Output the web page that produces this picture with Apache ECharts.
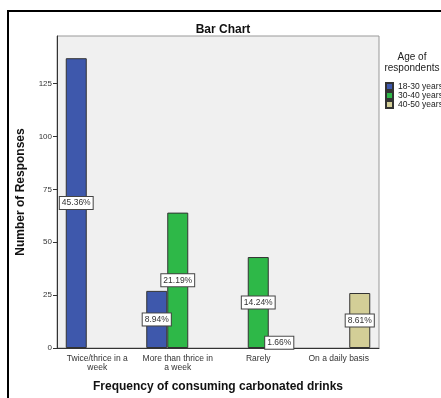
<!DOCTYPE html>
<html>
<head>
<meta charset="utf-8">
<script src="https://cdn.jsdelivr.net/npm/echarts@6/dist/echarts.min.js"></script>
<style>
  html, body { margin: 0; padding: 0; background: #fff; }
  #main { width: 441px; height: 398px; }
</style>
</head>
<body>
<div id="main"></div>
<script>
// categories on x axis
const categories = ['Twice/thrice in a\nweek', 'More than thrice in\na week', 'Rarely', 'On a daily basis'];
// number of responses per age group (null = no bar)
const age18to30 = [137, 27, null, null];
const age30to40 = [null, 64, 43, null];
const age40to50 = [null, null, 5, 26];
const groupNames = ['18-30 years', '30-40 years', '40-50 years'];
const groupColors = ['#3e58ac', '#2eb848', '#d3ce97'];
const yTicks = [0, 25, 50, 75, 100, 125];

const total = [age18to30, age30to40, age40to50]
  .flat().reduce((s, v) => s + (v || 0), 0);

const chart = echarts.init(document.getElementById('main'));

function makeSeries(name, data, color) {
  return {
    name: name,
    type: 'bar',
    data: data,
    barWidth: 21,
    barGap: '0%',
    itemStyle: { color: color, borderColor: '#333', borderWidth: 1 },
    label: {
      show: true,
      position: 'inside',
      formatter: p => (p.value / total * 100).toFixed(2) + '%',
      backgroundColor: '#fff',
      borderColor: '#444',
      borderWidth: 1,
      padding: [2, 2, 1, 2],
      fontSize: 8.5,
      color: '#333',
      fontFamily: 'Liberation Sans, Arial'
    }
  };
}

const option = {
  animation: false,
  textStyle: { fontFamily: 'Liberation Sans, Arial' },
  title: [
    {
      text: 'Bar Chart',
      left: 218, top: 19, textAlign: 'center',
      textStyle: { fontSize: 12, fontWeight: 'bold', color: '#111' }
    },
    {
      text: 'Age of\nrespondents',
      left: 407, top: 47, textAlign: 'center',
      textStyle: { fontSize: 10, fontWeight: 'normal', color: '#222', lineHeight: 11 }
    }
  ],
  legend: {
    orient: 'vertical',
    left: 380, top: 77,
    icon: 'rect',
    itemWidth: 7, itemHeight: 7, itemGap: 0,
    textStyle: { fontSize: 8.5, color: '#222', lineHeight: 7.5 },
    data: groupNames
  },
  grid: {
    left: 57, top: 36, right: 62, bottom: 47,
    show: true, backgroundColor: '#f0f0f0', borderColor: '#999', borderWidth: 1
  },
  xAxis: {
    type: 'category',
    data: categories,
    name: 'Frequency of consuming carbonated drinks',
    nameLocation: 'middle',
    nameGap: 33,
    nameTextStyle: { fontSize: 12, fontWeight: 'bold', color: '#111' },
    axisLine: { lineStyle: { color: '#333', width: 1 } },
    axisTick: { alignWithLabel: true, length: 5, lineStyle: { color: '#333' } },
    axisLabel: { fontSize: 8.5, color: '#333', lineHeight: 9, margin: 6, interval: 0 }
  },
  yAxis: {
    type: 'value',
    min: 0, max: 147.5,
    name: 'Number of Responses',
    nameLocation: 'middle',
    nameGap: 30,
    nameTextStyle: { fontSize: 12, fontWeight: 'bold', color: '#111' },
    axisLine: { show: true, lineStyle: { color: '#333', width: 1 } },
    axisTick: { show: true, length: 4, customValues: yTicks, lineStyle: { color: '#333' } },
    axisLabel: { fontSize: 8, color: '#333', margin: 5, customValues: yTicks },
    splitLine: { show: false }
  },
  series: [
    makeSeries(groupNames[0], age18to30, groupColors[0]),
    makeSeries(groupNames[1], age30to40, groupColors[1]),
    makeSeries(groupNames[2], age40to50, groupColors[2])
  ],
  graphic: [
    {
      type: 'rect',
      shape: { x: 8, y: 11, width: 460, height: 420 },
      style: { fill: 'none', stroke: '#000', lineWidth: 2 },
      silent: true
    }
  ]
};

chart.setOption(option);
</script>
</body>
</html>
